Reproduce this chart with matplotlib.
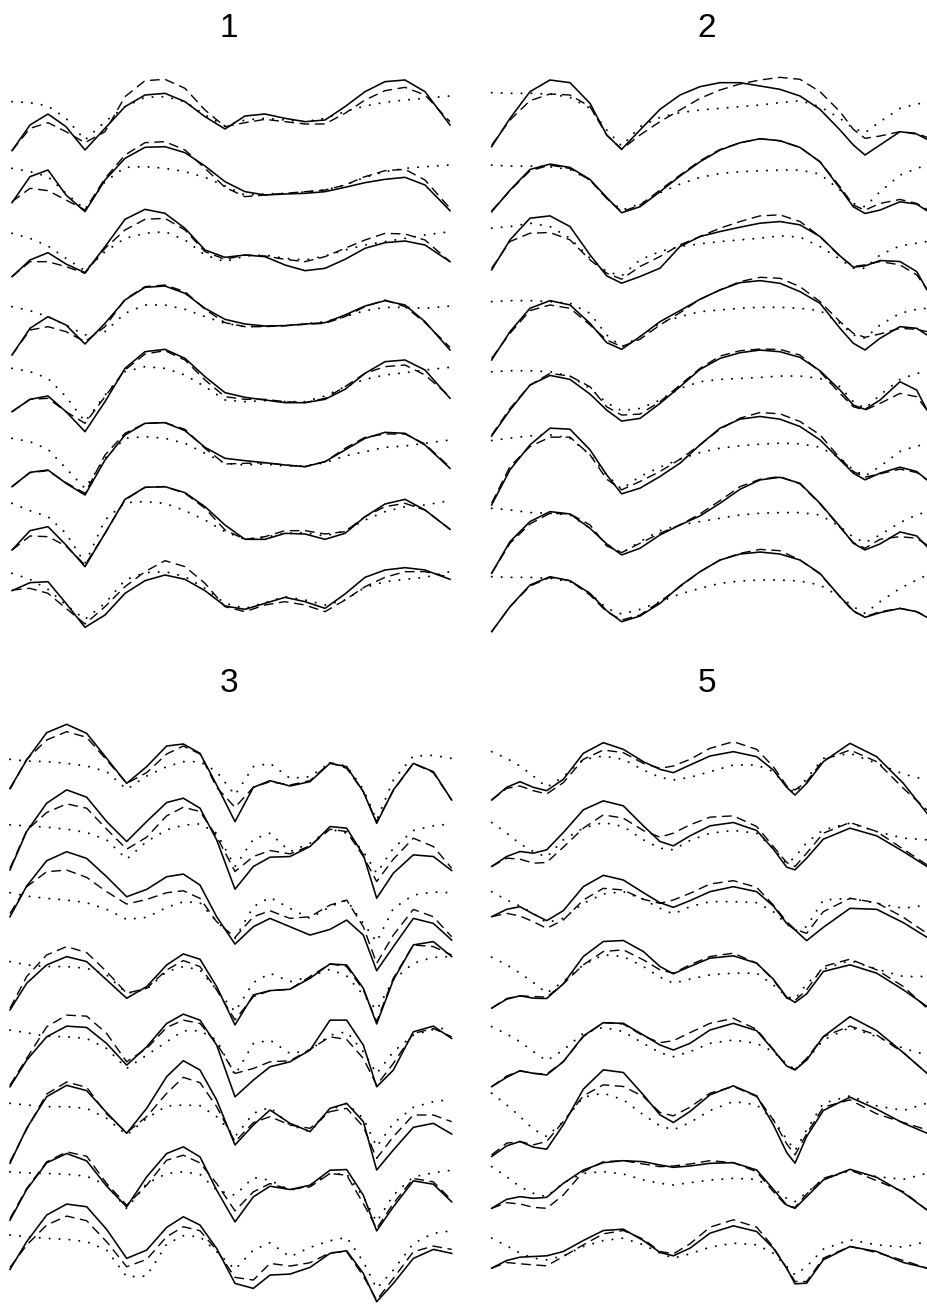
import numpy as np
import matplotlib
matplotlib.use("Agg")
import matplotlib.pyplot as plt

W, H = 927, 1309

# ---------------- Panel "1" ----------------
t1 = [36, 90, 144, 198, 255, 315, 375, 435, 495, 555, 615, 675, 735, 795, 855, 915, 975, 1035, 1095, 1155, 1215, 1275, 1350]
p1_solid = [
    [-147, -70, -37, -75, -145, -80, -15, 20, 25, 0, -45, -82, -43, -37, -50, -60, -55, -15, 30, 60, 65, 30, -70],
    [-101, -23, -3, -78, -128, -33, 32, 65, 67, 49, 9, -38, -68, -78, -75, -73, -68, -55, -41, -31, -25, -48, -125],
    [-121, -71, -49, -83, -109, -31, 51, 81, 69, 24, -41, -63, -56, -61, -86, -103, -96, -69, -36, -19, -14, -26, -76],
    [-154, -74, -39, -64, -121, -59, 11, 49, 53, 31, -14, -47, -61, -67, -66, -61, -57, -34, -7, 9, -4, -54, -139],
    [-122, -85, -75, -122, -182, -92, 8, 58, 65, 38, -17, -65, -79, -87, -95, -95, -85, -55, -7, 28, 33, 3, -82],
    [-145, -102, -95, -135, -170, -65, 10, 45, 47, 23, -27, -60, -67, -73, -80, -85, -70, -35, 0, 18, 15, -20, -90],
    [-133, -75, -63, -118, -183, -83, 19, 55, 57, 39, -3, -58, -101, -101, -83, -85, -101, -83, -33, 5, 19, -13, -71],
    [-53, -29, -26, -91, -163, -126, -61, -23, -6, -19, -53, -99, -109, -91, -73, -86, -106, -63, -13, 9, 16, 9, -19],
]
p1_dashed = [
    [-147, -80, -63, -90, -123, -90, 15, 63, 67, 40, -25, -75, -63, -53, -60, -67, -67, -35, 5, 33, 43, 20, -60],
    [-98, -58, -65, -93, -123, -28, 42, 79, 82, 57, 2, -55, -83, -78, -73, -68, -63, -48, -23, -5, -1, -33, -118],
    [-121, -76, -76, -91, -111, -36, 19, 51, 54, 19, -46, -69, -56, -59, -69, -76, -61, -36, -11, 9, 7, -11, -76],
    [-154, -79, -69, -84, -114, -69, 13, 51, 56, 36, -17, -57, -69, -69, -66, -62, -59, -39, -9, 11, -9, -57, -131],
    [-122, -85, -82, -122, -157, -77, 3, 51, 61, 33, -27, -77, -85, -85, -92, -95, -82, -47, -7, 13, 18, -12, -77],
    [-145, -103, -97, -133, -165, -50, 15, 45, 47, 27, -30, -77, -75, -73, -80, -85, -70, -30, 3, 13, 13, -17, -87],
    [-133, -91, -93, -121, -178, -83, 17, 55, 57, 37, -8, -73, -101, -93, -75, -75, -85, -78, -33, -3, 7, -13, -71],
    [-51, -46, -61, -106, -153, -101, -41, 4, 37, 19, -31, -101, -116, -96, -86, -96, -116, -81, -41, -13, 4, 4, -13],
]
p1_dotted = [
    [0, -3, -13, -50, -115, -60, -15, 13, 15, 0, -40, -73, -55, -50, -55, -60, -50, -30, -13, -2, 5, 10, 17],
    [2, -8, -23, -73, -121, -38, 5, 7, 2, -8, -25, -51, -78, -75, -73, -69, -63, -48, -25, -8, 2, 7, 12],
    [9, -6, -29, -66, -103, -46, -6, 9, 14, -11, -56, -76, -59, -56, -66, -71, -59, -41, -26, -16, -6, 4, 14],
    [-9, -21, -39, -64, -94, -84, -29, -4, -4, -17, -39, -59, -69, -67, -66, -61, -54, -39, -21, -11, -11, -14, -7],
    [8, -2, -22, -77, -152, -72, -2, 13, 8, -12, -47, -87, -92, -89, -92, -92, -75, -47, -25, -12, -5, 3, 11],
    [0, -10, -33, -90, -150, -60, 0, 5, 0, -15, -45, -75, -80, -77, -83, -83, -73, -53, -40, -27, -23, -15, -5],
    [7, -15, -33, -83, -173, -43, 9, 12, 7, -15, -43, -78, -101, -95, -83, -81, -91, -75, -43, -18, -3, 2, 15],
    [-1, -19, -49, -96, -139, -91, -21, 1, 4, -11, -46, -91, -106, -89, -71, -81, -96, -81, -43, -26, -19, -13, 4],
]

# ---------------- Panel "2" ----------------
t2 = [65, 120, 180, 240, 300, 360, 410, 455, 510, 570, 630, 690, 750, 810, 870, 930, 990, 1050, 1110, 1150, 1185, 1230, 1290, 1340, 1371]
p2_solid = [
    [-162, -77, 3, 38, 30, -32, -127, -170, -112, -50, -7, 18, 30, 30, 20, 10, -10, -50, -112, -157, -187, -157, -117, -124, -140],
    [-150, -85, -23, -7, -17, -53, -107, -153, -135, -90, -43, 0, 35, 57, 69, 63, 43, 0, -80, -135, -155, -145, -120, -127, -147],
    [-117, -27, 38, 45, 13, -72, -135, -157, -137, -112, -47, -17, -2, 11, 23, 28, 18, -17, -75, -109, -105, -89, -92, -122, -177],
    [-180, -95, -25, -2, -15, -70, -128, -148, -110, -65, -32, 2, 30, 52, 58, 50, 25, -10, -85, -130, -150, -115, -80, -85, -105],
    [-201, -123, -48, -19, -31, -75, -123, -156, -148, -103, -53, -1, 32, 49, 57, 52, 35, -5, -63, -108, -121, -93, -38, -63, -123],
    [-200, -95, -20, 30, 27, -35, -110, -167, -150, -115, -75, -20, 30, 57, 65, 57, 35, -5, -65, -105, -125, -105, -87, -100, -125],
    [-198, -103, -43, -13, -20, -63, -110, -143, -123, -83, -53, -26, 12, 54, 82, 90, 72, 12, -58, -108, -128, -110, -74, -86, -118],
    [-166, -91, -26, -1, -13, -51, -103, -136, -119, -81, -29, 14, 49, 67, 73, 67, 49, 9, -61, -103, -123, -109, -96, -106, -123],
]
p2_dashed = [
    [-157, -82, -24, -4, -7, -42, -127, -170, -127, -87, -52, -17, 8, 26, 38, 46, 40, 3, -57, -110, -137, -130, -117, -122, -134],
    [-147, -87, -27, -10, -20, -55, -110, -150, -130, -85, -40, 3, 37, 57, 69, 63, 43, 0, -75, -130, -145, -125, -113, -125, -143],
    [-112, -32, -7, -5, -27, -87, -127, -145, -107, -77, -42, -17, 8, 28, 45, 48, 28, -17, -77, -107, -102, -92, -102, -132, -175],
    [-175, -100, -32, -15, -25, -75, -120, -140, -118, -75, -38, 2, 30, 55, 68, 65, 40, -5, -65, -100, -112, -102, -85, -88, -95],
    [-198, -118, -48, -13, -21, -53, -113, -138, -135, -98, -48, 2, 39, 55, 60, 59, 42, -8, -73, -113, -123, -103, -73, -83, -123],
    [-195, -85, -25, 3, 3, -50, -123, -155, -130, -100, -63, -20, 27, 60, 77, 73, 50, 10, -60, -100, -117, -107, -93, -103, -125],
    [-198, -108, -50, -18, -20, -53, -116, -136, -108, -78, -53, -20, 20, 62, 84, 92, 70, 10, -60, -106, -123, -96, -88, -93, -113],
    [-166, -91, -29, -3, -13, -56, -106, -131, -116, -76, -31, 14, 49, 69, 81, 77, 49, 7, -61, -106, -121, -106, -96, -106, -121],
]
p2_dotted = [
    [0, -2, -2, -4, -14, -47, -112, -160, -102, -74, -60, -52, -47, -42, -37, -30, -24, -42, -77, -107, -120, -87, -47, -34, -30],
    [-10, -13, -13, -15, -23, -55, -110, -145, -127, -93, -67, -47, -35, -30, -27, -25, -25, -37, -85, -125, -135, -90, -40, -20, -10],
    [8, 13, 23, 13, -22, -82, -122, -135, -87, -62, -47, -39, -32, -27, -22, -15, -19, -47, -85, -112, -112, -72, -45, -37, -32],
    [-5, -2, -2, -5, -10, -40, -105, -140, -110, -70, -50, -35, -30, -25, -22, -22, -25, -32, -70, -105, -115, -75, -40, -28, -25],
    [-8, -5, -5, -8, -21, -58, -101, -125, -118, -93, -58, -38, -31, -28, -25, -21, -21, -28, -53, -98, -118, -78, -31, -13, -8],
    [-7, 0, 7, 10, 0, -50, -110, -153, -115, -87, -63, -43, -30, -23, -18, -15, -17, -27, -60, -95, -113, -85, -40, -23, -20],
    [-3, -8, -16, -18, -23, -63, -110, -138, -103, -70, -53, -43, -33, -23, -18, -16, -16, -23, -58, -90, -106, -83, -46, -23, -13],
    [-1, -3, -3, -6, -16, -51, -96, -113, -99, -76, -53, -36, -21, -14, -11, -11, -14, -26, -61, -91, -111, -76, -36, -11, 4],
]

# ---------------- Panel "3" ----------------
t3 = [30, 80, 140, 200, 260, 320, 380, 440, 500, 550, 600, 650, 705, 760, 810, 870, 930, 990, 1040, 1090, 1130, 1180, 1240, 1300, 1355]
p3_solid = [
    [-85, 0, 82, 107, 80, 5, -70, -20, 42, 48, 20, -75, -185, -82, -62, -78, -65, -10, -20, -95, -190, -90, -10, -35, -120],
    [-126, -11, 74, 114, 92, 19, -41, 19, 76, 89, 59, -36, -184, -116, -88, -86, -56, 4, -1, -81, -211, -136, -81, -86, -128],
    [-63, 29, 105, 132, 112, 57, -3, 19, 57, 65, 32, -63, -145, -93, -68, -93, -118, -101, -73, -118, -225, -153, -68, -83, -133],
    [-139, -59, -4, 21, 6, -49, -104, -69, -4, 29, 13, -69, -184, -94, -81, -77, -44, -1, -4, -74, -181, -49, 56, 66, 21],
    [-166, -86, -16, 16, 12, -36, -101, -46, 24, 52, 34, -41, -196, -146, -106, -91, -56, 34, 34, -41, -166, -116, -1, 16, -21],
    [-192, -87, 8, 42, 26, -40, -102, -27, 68, 116, 88, -2, -137, -77, -32, -72, -97, -27, -12, -67, -212, -152, -84, -72, -104],
    [-159, -67, 13, 41, 19, -57, -119, -29, 41, 61, 31, -69, -164, -89, -57, -67, -54, -9, -7, -84, -191, -119, -41, -51, -104],
    [-103, -20, 60, 93, 85, 17, -70, -45, 23, 55, 30, -40, -145, -160, -120, -117, -97, -55, -47, -115, -200, -145, -70, -43, -55],
]
p3_dashed = [
    [-88, 2, 60, 85, 68, 0, -70, -38, 18, 42, 18, -82, -142, -82, -65, -75, -62, -8, -25, -95, -185, -92, -10, -38, -120],
    [-121, -8, 46, 72, 59, -4, -64, -28, 36, 62, 49, -26, -131, -86, -68, -78, -54, -4, -11, -86, -161, -94, -31, -56, -121],
    [-53, 27, 72, 77, 55, 12, -25, -11, 9, 15, -8, -78, -125, -63, -45, -68, -63, -28, -13, -93, -203, -118, -41, -63, -123],
    [-134, -39, 26, 51, 33, -24, -89, -74, -19, 9, -9, -79, -169, -99, -81, -77, -39, -1, -9, -79, -174, -44, 56, 51, 26],
    [-161, -81, 14, 49, 46, -6, -91, -51, 12, 34, 24, -36, -126, -111, -91, -88, -54, -16, -24, -81, -161, -96, -6, 9, -16],
    [-187, -90, 16, 52, 36, -44, -100, -52, 18, 66, 50, -22, -127, -70, -52, -77, -87, -37, -27, -82, -177, -112, -47, -47, -67],
    [-154, -64, 16, 46, 33, -49, -114, -54, 21, 36, 13, -49, -131, -74, -49, -67, -59, -19, -24, -109, -184, -109, -34, -44, -99],
    [-97, -30, 30, 57, 43, -20, -95, -73, -5, 25, 13, -45, -127, -135, -85, -93, -83, -53, -50, -123, -195, -130, -50, -33, -43],
]
p3_dotted = [
    [2, -3, -5, -10, -18, -35, -88, -48, -20, -5, -5, -35, -105, -20, -10, -55, -50, -8, -18, -88, -180, -60, 12, 14, 5],
    [9, 6, 2, -4, -14, -36, -94, -41, -6, 8, 12, -16, -116, -34, -16, -71, -46, -4, -16, -71, -136, -61, -8, 6, 12],
    [9, -1, -8, -13, -21, -41, -71, -65, -35, -18, -21, -78, -128, -33, -5, -38, -68, -33, -13, -83, -138, -38, 2, 11, 9],
    [6, -4, -9, -9, -14, -34, -89, -77, -24, -9, -19, -79, -144, -57, -29, -54, -39, -17, -37, -94, -139, -49, 1, 19, 21],
    [4, -4, -14, -16, -21, -51, -111, -71, -31, 2, 2, -26, -131, -36, -26, -66, -56, -11, -1, -61, -126, -61, -11, 6, 12],
    [-12, -17, -22, -22, -27, -57, -107, -57, -20, -17, -19, -52, -112, -42, -24, -77, -97, -32, -12, -57, -142, -72, -24, -7, 0],
    [-14, -17, -19, -21, -27, -54, -124, -49, -19, -14, -21, -69, -84, -31, -39, -69, -54, -19, -21, -89, -164, -84, -29, -17, -9],
    [0, -5, -10, -13, -20, -45, -125, -123, -27, -2, -5, -50, -103, -45, -23, -65, -37, -17, -7, -80, -160, -105, -25, 5, 13],
]

# ---------------- Panel "5" ----------------
t5 = [65, 110, 150, 190, 230, 280, 340, 400, 460, 520, 570, 610, 660, 720, 790, 860, 910, 950, 975, 1010, 1060, 1140, 1220, 1300, 1371]
p5_solid = [
    [-145, -107, -90, -107, -117, -83, -5, 27, 7, -30, -53, -63, -40, -13, 0, -15, -55, -107, -130, -95, -30, 25, -15, -95, -185],
    [-136, -106, -91, -96, -86, -34, 34, 61, 46, -14, -61, -74, -44, -14, -4, -28, -84, -138, -146, -111, -54, -21, -44, -91, -136],
    [-78, -56, -48, -70, -90, -60, 12, 46, 32, -6, -36, -50, -30, -3, 12, -3, -46, -98, -118, -150, -110, -53, -56, -96, -140],
    [-144, -117, -107, -114, -115, -71, 11, 56, 59, 26, -19, -41, -19, 6, 13, -9, -57, -111, -127, -101, -34, -14, -39, -89, -139],
    [-171, -143, -123, -131, -136, -96, -19, 21, 19, -16, -46, -61, -41, -1, 19, -3, -61, -109, -121, -91, -21, 39, -3, -69, -131],
    [-172, -140, -127, -144, -150, -77, 30, 88, 80, 13, -47, -70, -37, 13, 40, 10, -77, -160, -192, -112, -34, 6, -30, -72, -102],
    [-119, -92, -84, -89, -86, -44, -4, 18, 24, 21, 11, 4, 8, 16, 18, -4, -62, -109, -119, -84, -34, -2, -26, -72, -124],
    [-90, -67, -57, -55, -53, -40, -7, 23, 27, -7, -43, -53, -30, 15, 37, 20, -30, -90, -137, -135, -65, -25, -40, -73, -90],
]
p5_dashed = [
    [-145, -110, -103, -117, -127, -93, -23, 5, -3, -35, -50, -43, -23, 10, 30, 7, -45, -103, -115, -90, -25, 5, -30, -110, -175],
    [-136, -111, -114, -126, -124, -78, -21, 19, 9, -28, -48, -36, -11, 12, 16, -16, -76, -124, -136, -96, -36, -4, -31, -84, -131],
    [-78, -68, -76, -93, -113, -88, -28, 7, 2, -26, -38, -28, -8, 20, 30, 10, -43, -93, -116, -128, -63, -23, -36, -80, -128],
    [-144, -115, -107, -109, -111, -71, -14, 26, 31, 1, -29, -39, -14, 11, 21, -9, -59, -114, -121, -89, -19, 3, -29, -79, -144],
    [-171, -139, -124, -131, -133, -96, -21, 21, 17, -19, -39, -33, -9, 19, 34, 1, -59, -109, -119, -86, -21, 11, -16, -69, -131],
    [-167, -132, -127, -137, -127, -67, 10, 43, 38, 8, -40, -50, -24, 18, 38, 8, -62, -134, -167, -104, -24, -2, -44, -70, -92],
    [-119, -102, -106, -116, -119, -79, -9, 21, 24, 14, 6, 8, 14, 24, 18, -9, -69, -112, -116, -76, -29, -4, -36, -69, -124],
    [-90, -73, -77, -80, -83, -55, -20, 13, 23, -3, -40, -47, -17, 33, 55, 33, -27, -90, -130, -130, -60, -25, -43, -67, -90],
]
p5_dotted = [
    [0, -20, -43, -73, -107, -75, -23, -13, -23, -55, -77, -85, -77, -60, -40, -40, -60, -103, -125, -80, -20, -5, -35, -67, -85],
    [-4, -36, -68, -91, -108, -56, -21, -4, -16, -56, -81, -86, -58, -36, -28, -36, -81, -128, -108, -64, -26, -6, -31, -51, -56],
    [-3, -28, -46, -68, -96, -83, -38, -10, -3, -26, -53, -70, -48, -33, -33, -36, -63, -100, -120, -108, -28, -23, -38, -53, -43],
    [9, -14, -39, -67, -99, -64, -14, 16, 11, -19, -51, -69, -57, -44, -39, -39, -74, -109, -117, -71, -27, -1, -27, -49, -49],
    [9, -13, -36, -66, -93, -61, -11, 7, -6, -41, -69, -81, -66, -41, -31, -41, -66, -103, -119, -91, -31, 7, -21, -56, -76],
    [18, -17, -52, -90, -112, -67, 6, 18, -2, -47, -80, -92, -70, -34, -7, -17, -62, -120, -154, -92, -12, 10, -20, -34, -12],
    [6, -24, -54, -74, -84, -42, -14, -9, -16, -34, -44, -49, -42, -34, -29, -32, -59, -89, -99, -72, -32, -6, -24, -32, -14],
    [0, -23, -45, -60, -65, -53, -25, -7, 0, -20, -45, -60, -47, -27, -15, -20, -45, -85, -110, -85, -33, -5, -20, -27, -10],
]

titles = ["1", "2", "3", "5"]

# ---------------- layout (pixels of the 927x1309 canvas) ----------------
# each entry: (left, top, width, height, first-row level from top in data units, row spacing)
layout = [
    (0, 60, 460, 580, 125, 202.0),
    (470, 60, 457, 580, 98, 207.3),
    (0, 700, 460, 609, 180, 203.6),
    (470, 700, 457, 609, 155, 208.5),
]
title_pos = [(229, 37), (707, 37), (229, 692), (707, 692)]
UNITS_PER_PX = 3.0

panels = [
    (t1, p1_solid, p1_dashed, p1_dotted),
    (t2, p2_solid, p2_dashed, p2_dotted),
    (t3, p3_solid, p3_dashed, p3_dotted),
    (t5, p5_solid, p5_dashed, p5_dotted),
]

fig = plt.figure(figsize=(W / 100, H / 100), dpi=100)
fig.patch.set_facecolor("white")

for (t, sol, das, dot), (left, top, w, h, top_level, spacing), title, (tx, ty) in zip(
        panels, layout, titles, title_pos):
    ax = fig.add_axes([left / W, 1 - (top + h) / H, w / W, h / H])
    ax.set_axis_off()
    ax.set_xlim(0, w * UNITS_PER_PX)
    ax.set_ylim(top_level - h * UNITS_PER_PX, top_level)
    tt = np.asarray(t, float)
    for k in range(len(sol)):
        off = -k * spacing
        ax.plot(tt, np.asarray(dot[k], float) + off, color="black", lw=1.4,
                linestyle=(0, (0.1, 5.0)), dash_capstyle="round", clip_on=False)
        ax.plot(tt, np.asarray(das[k], float) + off, color="black", lw=1.0,
                linestyle=(0, (7.0, 4.0)), clip_on=False)
        ax.plot(tt, np.asarray(sol[k], float) + off, color="black", lw=1.15,
                solid_joinstyle="round", clip_on=False)
    fig.text(tx / W, 1 - ty / H, title, ha="center", va="baseline",
             fontsize=24, family=["Liberation Sans", "DejaVu Sans"])

fig.savefig("out.png", dpi=100, facecolor="white")
